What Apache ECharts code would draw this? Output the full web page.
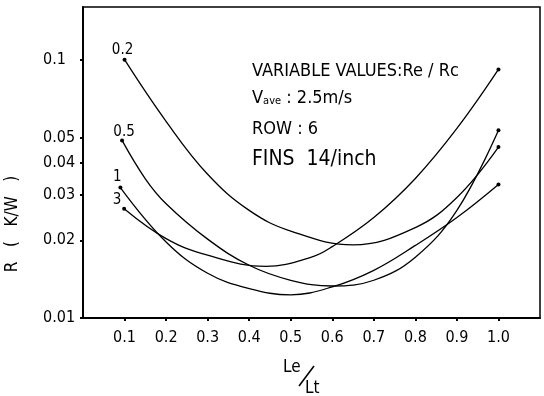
<!DOCTYPE html>
<html>
<head>
<meta charset="utf-8">
<script src="https://cdn.jsdelivr.net/npm/echarts@6/dist/echarts.min.js"></script>
<style>
html,body{margin:0;padding:0;background:#fff;}
#c{width:544px;height:396px;}
</style>
</head>
<body>
<div id="c"></div>
<script>
// ---- data ----
const seriesNames = ['0.2', '0.5', '1', '3'];

const x02 = [0.1, 0.2, 0.3, 0.4, 0.5, 0.65, 0.8, 0.9, 1.0];
const r02 = [0.1, 0.0577, 0.0360, 0.0261, 0.0217, 0.0192, 0.0224, 0.0293, 0.0459];

const x05 = [0.094, 0.15, 0.2, 0.3, 0.4, 0.5, 0.6, 0.7, 0.8, 0.9, 1.0];
const r05 = [0.0487, 0.0346, 0.0277, 0.0202, 0.0160, 0.0140, 0.0133, 0.0140, 0.0172, 0.0261, 0.0533];

const x1 = [0.09, 0.2, 0.3, 0.4, 0.5, 0.6, 0.7, 0.8, 0.9, 1.0];
const r1 = [0.0320, 0.0197, 0.0149, 0.0130, 0.0123, 0.0132, 0.0153, 0.0191, 0.0245, 0.0329];

const x3 = [0.099, 0.2, 0.3, 0.44, 0.55, 0.6, 0.7, 0.8, 0.9, 1.0];
const r3 = [0.0265, 0.0203, 0.0175, 0.01585, 0.0172, 0.0189, 0.0245, 0.0347, 0.0542, 0.0917];

const xTicks = [0.1, 0.2, 0.3, 0.4, 0.5, 0.6, 0.7, 0.8, 0.9, 1.0];
const xTickLabels = ['0.1', '0.2', '0.3', '0.4', '0.5', '0.6', '0.7', '0.8', '0.9', '1.0'];
const yTicks = [0.01, 0.02, 0.03, 0.04, 0.05, 0.1];
const yTickLabels = ['0.01', '0.02', '0.03', '0.04', '0.05', '0.1'];

const noteLine1 = 'VARIABLE VALUES:Re / Rc';
const noteLine3 = 'ROW : 6';
const noteLine4 = 'FINS  14/inch';
const yTitle = 'R   (   K/W   )';

// ---- build ----
const FONT = '"DejaVu Sans Condensed", "DejaVu Sans", sans-serif';
const xs = [x02, x05, x1, x3];
const rs = [r02, r05, r1, r3];
const labelOffsets = [[-2, 0], [2, 1], [-3, -1], [-7, 1]];

function nearestLabel(v, ticks, labels) {
  let best = 0;
  for (let i = 1; i < ticks.length; i++) {
    if (Math.abs(ticks[i] - v) < Math.abs(ticks[best] - v)) best = i;
  }
  return labels[best];
}

const series = seriesNames.map((name, si) => {
  const n = xs[si].length;
  return {
    name: name,
    type: 'line',
    smooth: 0.4,
    showAllSymbol: true,
    symbol: (val, params) => (params.dataIndex === 0 || params.dataIndex === n - 1) ? 'circle' : 'none',
    symbolSize: 4,
    itemStyle: { color: '#000' },
    lineStyle: { color: '#000', width: 1.3 },
    label: {
      show: true,
      position: 'top',
      distance: 0,
      offset: labelOffsets[si],
      color: '#000',
      fontFamily: FONT,
      fontSize: 15,
      formatter: p => p.dataIndex === 0 ? p.seriesName : ''
    },
    emphasis: { disabled: true },
    data: xs[si].map((x, i) => [x, rs[si][i]])
  };
});

const chart = echarts.init(document.getElementById('c'), null, { renderer: 'canvas' });
chart.setOption({
  animation: false,
  backgroundColor: '#fff',
  grid: {
    left: 83, right: 4, top: 7, bottom: 78,
    show: true, borderColor: '#000', borderWidth: 1.5, backgroundColor: 'transparent'
  },
  xAxis: {
    type: 'value', min: 0, max: 1.1, interval: 0.1,
    axisLine: { lineStyle: { color: '#000', width: 2 } },
    axisTick: { show: true, length: 3, inside: false, customValues: xTicks, lineStyle: { color: '#000', width: 2 } },
    axisLabel: {
      customValues: xTicks, margin: 12, color: '#000', fontFamily: FONT, fontSize: 16,
      formatter: v => nearestLabel(v, xTicks, xTickLabels)
    },
    splitLine: { show: false }
  },
  yAxis: {
    type: 'log', logBase: 10, min: 0.01, max: 0.16,
    axisLine: { show: true, lineStyle: { color: '#000', width: 2 } },
    axisTick: { show: true, length: 3, inside: false, customValues: yTicks, lineStyle: { color: '#000', width: 2 } },
    axisLabel: {
      customValues: yTicks, margin: 40, align: 'left', color: '#000', fontFamily: FONT, fontSize: 16,
      formatter: v => nearestLabel(v, yTicks, yTickLabels)
    },
    splitLine: { show: false },
    minorTick: { show: false }
  },
  graphic: [
    { type: 'text', x: 252, y: 71, style: { text: noteLine1, font: '18px ' + FONT, fill: '#000', verticalAlign: 'middle' } },
    { type: 'text', x: 252, y: 98, style: {
        text: '{a|V}{b|ave}{a| : 2.5m/s}', fill: '#000', verticalAlign: 'middle',
        rich: {
          a: { fontFamily: FONT, fontSize: 18, verticalAlign: 'bottom', fill: '#000' },
          b: { fontFamily: FONT, fontSize: 11, verticalAlign: 'bottom', fill: '#000' }
        }
      } },
    { type: 'text', x: 252, y: 129, style: { text: noteLine3, font: '18px ' + FONT, fill: '#000', verticalAlign: 'middle' } },
    { type: 'text', x: 252, y: 160, style: { text: noteLine4, font: '21px ' + FONT, fill: '#000', verticalAlign: 'middle' } },
    { type: 'text', x: 283, y: 368, style: { text: 'Le', font: '17px ' + FONT, fill: '#000', verticalAlign: 'middle' } },
    { type: 'line', shape: { x1: 299, y1: 386, x2: 314, y2: 366 }, style: { stroke: '#000', lineWidth: 1.5 } },
    { type: 'text', x: 305, y: 389, style: { text: 'Lt', font: '17px ' + FONT, fill: '#000', verticalAlign: 'middle' } },
    { type: 'text', x: 13, y: 224, rotation: Math.PI / 2, style: { text: yTitle, font: '17px ' + FONT, fill: '#000', align: 'center', verticalAlign: 'middle' } }
  ],
  series: series
});
</script>
</body>
</html>
